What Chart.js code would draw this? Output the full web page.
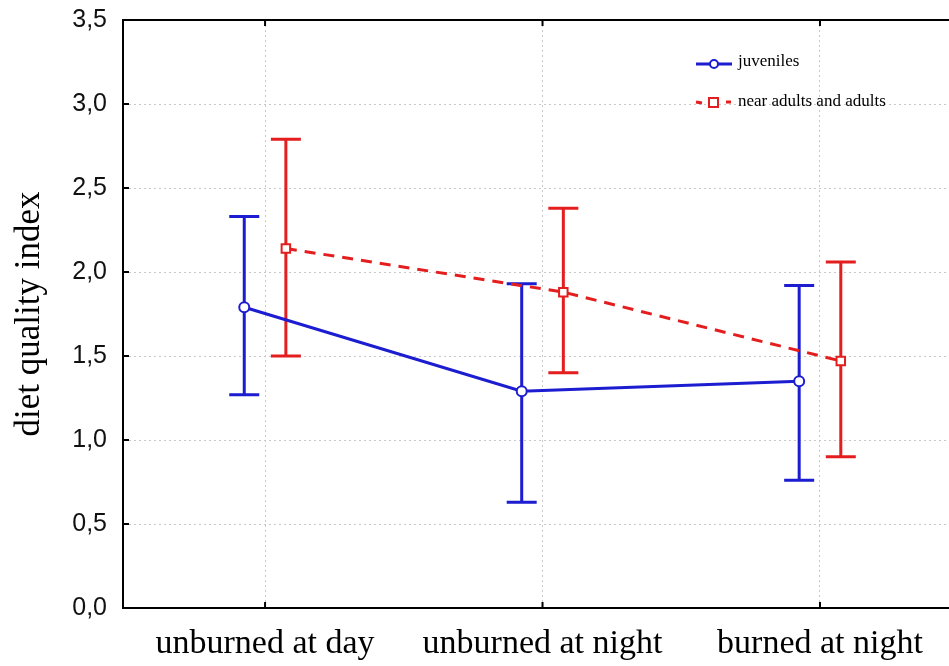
<!DOCTYPE html>
<html>
<head>
<meta charset="utf-8">
<script src="https://cdn.jsdelivr.net/npm/chart.js@4"></script>
<style>
html, body { margin: 0; padding: 0; background: #fff; overflow: hidden; }
#wrap { width: 949px; height: 666px; position: relative; }
canvas { display: block; }
</style>
</head>
<body>
<div id="wrap"><canvas id="grafico"></canvas></div>
<script>
const categorias = ['unburned at day', 'unburned at night', 'burned at night'];
const juvMedia = [1.79, 1.29, 1.35];
const juvSup = [2.33, 1.93, 1.92];
const juvInf = [1.27, 0.63, 0.76];
const adultMedia = [2.14, 1.88, 1.47];
const adultSup = [2.79, 2.38, 2.06];
const adultInf = [1.50, 1.40, 0.90];
const yTicks = [0, 0.5, 1, 1.5, 2, 2.5, 3, 3.5];
const nomes = ['juveniles', 'near adults and adults'];

const AZUL = '#1c1cd0';
const VERMELHO = '#e41e1e';
const desloc = 0.075;

const pontos = (medias, d) => medias.map((v, i) => ({ x: i + 1 + d, y: v }));

// barras de erro desenhadas com as escalas do grafico
const barrasErro = {
    id: 'barrasErro',
    beforeDatasetsDraw(chart) {
        const { ctx, scales: { x, y } } = chart;
        const grupos = [
            { sup: juvSup, inf: juvInf, d: -desloc, cor: AZUL },
            { sup: adultSup, inf: adultInf, d: desloc, cor: VERMELHO }
        ];
        ctx.save();
        ctx.lineWidth = 3;
        grupos.forEach(g => {
            ctx.strokeStyle = g.cor;
            categorias.forEach((c, i) => {
                const px = x.getPixelForValue(i + 1 + g.d);
                const top = y.getPixelForValue(g.sup[i]);
                const bot = y.getPixelForValue(g.inf[i]);
                ctx.beginPath();
                ctx.moveTo(px, top); ctx.lineTo(px, bot);
                ctx.moveTo(px - 15, top); ctx.lineTo(px + 15, top);
                ctx.moveTo(px - 15, bot); ctx.lineTo(px + 15, bot);
                ctx.stroke();
            });
        });
        ctx.restore();
    }
};

// moldura, marcas e legenda
const moldura = {
    id: 'moldura',
    afterDraw(chart) {
        const { ctx, chartArea: a, scales: { x, y } } = chart;
        ctx.save();
        ctx.strokeStyle = '#000';
        ctx.lineWidth = 2;
        ctx.beginPath();
        ctx.moveTo(a.left, a.top); ctx.lineTo(a.right, a.top);
        yTicks.forEach(t => {
            const py = y.getPixelForValue(t);
            ctx.moveTo(a.left, py); ctx.lineTo(a.left + 6, py);
        });
        categorias.forEach((c, i) => {
            const px = x.getPixelForValue(i + 1);
            ctx.moveTo(px, a.bottom); ctx.lineTo(px, a.bottom - 6);
            ctx.moveTo(px, a.top); ctx.lineTo(px, a.top + 6);
        });
        ctx.stroke();

        // legenda
        ctx.font = '17px "Liberation Serif", serif';
        ctx.textBaseline = 'middle';
        const lx = 696, ly = [64, 102];
        ctx.lineWidth = 3;
        ctx.strokeStyle = AZUL;
        ctx.beginPath(); ctx.moveTo(lx, ly[0]); ctx.lineTo(lx + 36, ly[0]); ctx.stroke();
        ctx.fillStyle = '#fff';
        ctx.lineWidth = 2;
        ctx.beginPath(); ctx.arc(lx + 18, ly[0], 4, 0, Math.PI * 2); ctx.fill(); ctx.stroke();
        ctx.strokeStyle = VERMELHO;
        ctx.lineWidth = 3;
        ctx.beginPath(); ctx.moveTo(lx, ly[1]); ctx.lineTo(lx + 6, ly[1] + 1);
        ctx.moveTo(lx + 30, ly[1]); ctx.lineTo(lx + 35, ly[1]); ctx.stroke();
        ctx.lineWidth = 2;
        ctx.fillRect(lx + 13, ly[1] - 4, 9, 9);
        ctx.strokeRect(lx + 13, ly[1] - 4, 9, 9);
        ctx.fillStyle = '#000';
        ctx.fillText(nomes[0], lx + 42, ly[0] - 2);
        ctx.fillText(nomes[1], lx + 42, ly[1]);
        ctx.restore();
    }
};

new Chart(document.getElementById('grafico'), {
    type: 'scatter',
    data: {
        datasets: [{
            label: nomes[0],
            data: pontos(juvMedia, -desloc),
            showLine: true,
            borderColor: AZUL,
            borderWidth: 3,
            pointStyle: 'circle',
            pointRadius: 5,
            pointBorderWidth: 2,
            pointBackgroundColor: '#fff',
            pointBorderColor: AZUL
        }, {
            label: nomes[1],
            data: pontos(adultMedia, desloc),
            showLine: true,
            borderColor: VERMELHO,
            borderWidth: 3,
            borderDash: [11, 8],
            pointStyle: 'rect',
            pointRadius: 6,
            pointBorderWidth: 2,
            pointBackgroundColor: '#fff',
            pointBorderColor: VERMELHO
        }]
    },
    options: {
        responsive: true,
        maintainAspectRatio: false,
        animation: false,
        layout: { autoPadding: false, padding: { top: 20, right: 0, left: 0, bottom: 0 } },
        plugins: {
            legend: { display: false },
            tooltip: { enabled: false }
        },
        scales: {
            x: {
                type: 'linear',
                min: 0.488,
                max: 3.465,
                afterBuildTicks: s => { s.ticks = categorias.map((c, i) => ({ value: i + 1 })); },
                afterFit: s => { s.height = 58; s.paddingLeft = 0; s.paddingRight = 0; },
                ticks: {
                    callback: v => categorias[v - 1],
                    color: '#000',
                    padding: 16,
                    maxRotation: 0,
                    font: { family: '"Liberation Serif", serif', size: 34 }
                },
                grid: { color: '#c8c8c8', lineWidth: 1, drawTicks: false },
                border: { color: '#000', width: 2, dash: [2, 3] }
            },
            y: {
                min: 0,
                max: 3.5,
                afterBuildTicks: s => { s.ticks = yTicks.map(v => ({ value: v })); },
                afterFit: s => { s.width = 123; s.paddingTop = 0; s.paddingBottom = 0; },
                title: {
                    display: true,
                    text: 'diet quality index',
                    color: '#000',
                    padding: { top: 9, bottom: 0 },
                    font: { family: '"Liberation Serif", serif', size: 35 }
                },
                ticks: {
                    callback: v => v.toFixed(1).replace('.', ','),
                    color: '#111',
                    padding: 16,
                    font: { family: '"Liberation Sans", Arial, sans-serif', size: 25 }
                },
                grid: { color: '#c8c8c8', lineWidth: 1, drawTicks: false },
                border: { color: '#000', width: 2, dash: [2, 3] }
            }
        }
    },
    plugins: [barrasErro, moldura]
});
</script>
</body>
</html>
